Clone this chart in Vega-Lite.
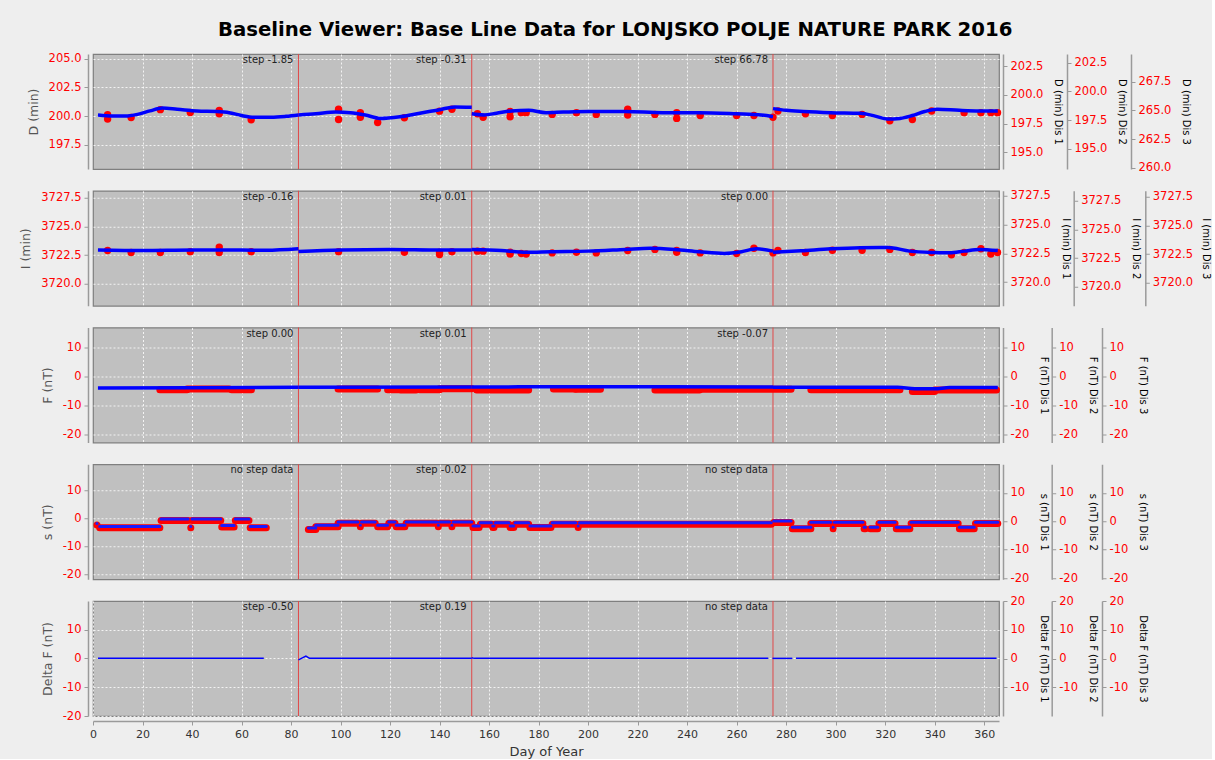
{
"$schema":"https://vega.github.io/schema/vega-lite/v6.json",
"padding":{"left":19,"top":20,"right":0,"bottom":0},
"title":{"text":"Baseline Viewer: Base Line Data for LONJSKO POLJE NATURE PARK 2016","fontSize":19.7,"fontWeight":"bold","font":"DejaVu Sans","color":"#000000","anchor":"middle","offset":12},
"spacing":21.75,
"bounds":"flush",
"datasets":{
"breaks":[{"d":83},{"d":153},{"d":274.7}],
"steps":[
{"p":"D","d":83,"t":"step -1.85"},{"p":"D","d":153,"t":"step -0.31"},{"p":"D","d":274.7,"t":"step 66.78"},
{"p":"I","d":83,"t":"step -0.16"},{"p":"I","d":153,"t":"step 0.01"},{"p":"I","d":274.7,"t":"step 0.00"},
{"p":"F","d":83,"t":"step 0.00"},{"p":"F","d":153,"t":"step 0.01"},{"p":"F","d":274.7,"t":"step -0.07"},
{"p":"s","d":83,"t":"no step data"},{"p":"s","d":153,"t":"step -0.02"},{"p":"s","d":274.7,"t":"no step data"},
{"p":"dF","d":83,"t":"step -0.50"},{"p":"dF","d":153,"t":"step 0.19"},{"p":"dF","d":274.7,"t":"no step data"}],
"pts":[
{"p":"D","d":5.9,"v":200.12},{"p":"D","d":5.9,"v":199.74},{"p":"D","d":15.4,"v":199.88},{"p":"D","d":27.2,"v":200.56},{"p":"D","d":39.3,"v":200.32},{"p":"D","d":51,"v":200.5},{"p":"D","d":51,"v":200.2},{"p":"D","d":63.9,"v":199.68},{"p":"D","d":99.2,"v":200.6},{"p":"D","d":99.2,"v":199.7},{"p":"D","d":108,"v":200.3},{"p":"D","d":108,"v":199.9},{"p":"D","d":115,"v":199.45},{"p":"D","d":125.8,"v":199.86},{"p":"D","d":140,"v":200.43},{"p":"D","d":145,"v":200.6},{"p":"D","d":155.3,"v":200.2},{"p":"D","d":157.6,"v":199.9},{"p":"D","d":168.5,"v":200.4},{"p":"D","d":168.5,"v":199.95},{"p":"D","d":173,"v":200.3},{"p":"D","d":175,"v":200.3},{"p":"D","d":185.5,"v":200.15},{"p":"D","d":195.3,"v":200.3},{"p":"D","d":203.3,"v":200.15},{"p":"D","d":216,"v":200.6},{"p":"D","d":216,"v":200.1},{"p":"D","d":227,"v":200.15},{"p":"D","d":235.8,"v":200.3},{"p":"D","d":235.8,"v":199.8},{"p":"D","d":245.3,"v":200.05},{"p":"D","d":260,"v":200.05},{"p":"D","d":267,"v":200.05},{"p":"D","d":274.7,"v":199.9},{"p":"D","d":276.7,"v":200.45},{"p":"D","d":287.8,"v":200.2},{"p":"D","d":298.7,"v":200.05},{"p":"D","d":310.7,"v":200.15},{"p":"D","d":321.9,"v":199.6},{"p":"D","d":331,"v":199.7},{"p":"D","d":338.8,"v":200.45},{"p":"D","d":351.9,"v":200.3},{"p":"D","d":358.7,"v":200.3},{"p":"D","d":362.7,"v":200.3},{"p":"D","d":365.4,"v":200.3},
{"p":"I","d":5.9,"v":3722.9},{"p":"I","d":15.4,"v":3722.73},{"p":"I","d":27.2,"v":3722.73},{"p":"I","d":39.3,"v":3722.8},{"p":"I","d":51,"v":3723.2},{"p":"I","d":51,"v":3722.73},{"p":"I","d":63.9,"v":3722.8},{"p":"I","d":99.2,"v":3722.8},{"p":"I","d":125.8,"v":3722.75},{"p":"I","d":140,"v":3722.55},{"p":"I","d":140,"v":3722.75},{"p":"I","d":145,"v":3722.8},{"p":"I","d":155.3,"v":3722.85},{"p":"I","d":157.6,"v":3722.85},{"p":"I","d":168.5,"v":3722.75},{"p":"I","d":168.5,"v":3722.6},{"p":"I","d":173,"v":3722.65},{"p":"I","d":175,"v":3722.6},{"p":"I","d":185.5,"v":3722.7},{"p":"I","d":195.3,"v":3722.75},{"p":"I","d":203.3,"v":3722.7},{"p":"I","d":216,"v":3722.9},{"p":"I","d":227,"v":3723.0},{"p":"I","d":235.8,"v":3722.9},{"p":"I","d":235.8,"v":3722.75},{"p":"I","d":245.3,"v":3722.7},{"p":"I","d":260,"v":3722.65},{"p":"I","d":267,"v":3723.1},{"p":"I","d":274.7,"v":3722.7},{"p":"I","d":276.7,"v":3722.9},{"p":"I","d":287.8,"v":3722.73},{"p":"I","d":298.7,"v":3722.92},{"p":"I","d":310.7,"v":3722.92},{"p":"I","d":321.9,"v":3723.0},{"p":"I","d":331,"v":3722.73},{"p":"I","d":338.8,"v":3722.73},{"p":"I","d":346.8,"v":3722.53},{"p":"I","d":351.9,"v":3722.73},{"p":"I","d":358.7,"v":3723.06},{"p":"I","d":362.7,"v":3722.6},{"p":"I","d":365.4,"v":3722.73}],
"base":[
{"p":"D","g":1,"d":2,"v":200.1},{"p":"D","g":1,"d":8,"v":200.0},{"p":"D","g":1,"d":13,"v":200.0},{"p":"D","g":1,"d":18,"v":200.15},{"p":"D","g":1,"d":23,"v":200.45},{"p":"D","g":1,"d":28,"v":200.7},{"p":"D","g":1,"d":34,"v":200.6},{"p":"D","g":1,"d":42,"v":200.45},{"p":"D","g":1,"d":50,"v":200.4},{"p":"D","g":1,"d":55,"v":200.3},{"p":"D","g":1,"d":60,"v":200.05},{"p":"D","g":1,"d":65,"v":199.9},{"p":"D","g":1,"d":72,"v":199.9},{"p":"D","g":1,"d":78,"v":199.98},{"p":"D","g":1,"d":83,"v":200.1},
{"p":"D","g":2,"d":83,"v":200.1},{"p":"D","g":2,"d":90,"v":200.2},{"p":"D","g":2,"d":98,"v":200.35},{"p":"D","g":2,"d":104,"v":200.3},{"p":"D","g":2,"d":110,"v":200.1},{"p":"D","g":2,"d":116,"v":199.8},{"p":"D","g":2,"d":124,"v":199.95},{"p":"D","g":2,"d":132,"v":200.25},{"p":"D","g":2,"d":140,"v":200.55},{"p":"D","g":2,"d":146,"v":200.8},{"p":"D","g":2,"d":153,"v":200.78},
{"p":"D","g":3,"d":153,"v":200.2},{"p":"D","g":3,"d":158,"v":200.1},{"p":"D","g":3,"d":163,"v":200.25},{"p":"D","g":3,"d":169,"v":200.45},{"p":"D","g":3,"d":176,"v":200.5},{"p":"D","g":3,"d":183,"v":200.3},{"p":"D","g":3,"d":190,"v":200.35},{"p":"D","g":3,"d":200,"v":200.4},{"p":"D","g":3,"d":215,"v":200.4},{"p":"D","g":3,"d":230,"v":200.3},{"p":"D","g":3,"d":245,"v":200.3},{"p":"D","g":3,"d":260,"v":200.2},{"p":"D","g":3,"d":270,"v":200.1},{"p":"D","g":3,"d":274.7,"v":199.95},
{"p":"D","g":4,"d":274.7,"v":200.65},{"p":"D","g":4,"d":280,"v":200.5},{"p":"D","g":4,"d":287,"v":200.4},{"p":"D","g":4,"d":298,"v":200.3},{"p":"D","g":4,"d":310,"v":200.25},{"p":"D","g":4,"d":316,"v":200.0},{"p":"D","g":4,"d":321,"v":199.75},{"p":"D","g":4,"d":326,"v":199.8},{"p":"D","g":4,"d":331,"v":200.05},{"p":"D","g":4,"d":336,"v":200.4},{"p":"D","g":4,"d":341,"v":200.6},{"p":"D","g":4,"d":350,"v":200.5},{"p":"D","g":4,"d":358,"v":200.45},{"p":"D","g":4,"d":365.5,"v":200.45},
{"p":"I","g":1,"d":2,"v":3722.95},{"p":"I","g":1,"d":20,"v":3722.9},{"p":"I","g":1,"d":40,"v":3722.95},{"p":"I","g":1,"d":60,"v":3722.95},{"p":"I","g":1,"d":70,"v":3722.92},{"p":"I","g":1,"d":83,"v":3723.05},
{"p":"I","g":2,"d":83,"v":3722.82},{"p":"I","g":2,"d":100,"v":3722.95},{"p":"I","g":2,"d":120,"v":3723.0},{"p":"I","g":2,"d":140,"v":3722.95},{"p":"I","g":2,"d":153,"v":3722.95},
{"p":"I","g":3,"d":153,"v":3723.0},{"p":"I","g":3,"d":165,"v":3722.9},{"p":"I","g":3,"d":175,"v":3722.75},{"p":"I","g":3,"d":185,"v":3722.8},{"p":"I","g":3,"d":200,"v":3722.85},{"p":"I","g":3,"d":215,"v":3723.0},{"p":"I","g":3,"d":225,"v":3723.1},{"p":"I","g":3,"d":235,"v":3723.0},{"p":"I","g":3,"d":245,"v":3722.8},{"p":"I","g":3,"d":255,"v":3722.65},{"p":"I","g":3,"d":262,"v":3722.8},{"p":"I","g":3,"d":268,"v":3723.05},{"p":"I","g":3,"d":274.7,"v":3722.85},
{"p":"I","g":4,"d":274.7,"v":3722.75},{"p":"I","g":4,"d":286,"v":3722.88},{"p":"I","g":4,"d":298,"v":3723.05},{"p":"I","g":4,"d":310,"v":3723.15},{"p":"I","g":4,"d":321,"v":3723.17},{"p":"I","g":4,"d":330,"v":3722.85},{"p":"I","g":4,"d":340,"v":3722.73},{"p":"I","g":4,"d":346,"v":3722.7},{"p":"I","g":4,"d":352,"v":3722.85},{"p":"I","g":4,"d":358,"v":3723.0},{"p":"I","g":4,"d":365.5,"v":3722.9},
{"p":"F","g":1,"d":2,"v":-3.9},{"p":"F","g":1,"d":40,"v":-3.85},{"p":"F","g":1,"d":83,"v":-3.7},
{"p":"F","g":2,"d":83,"v":-3.7},{"p":"F","g":2,"d":153,"v":-3.6},
{"p":"F","g":3,"d":153,"v":-3.6},{"p":"F","g":3,"d":200,"v":-3.5},{"p":"F","g":3,"d":274.7,"v":-3.6},
{"p":"F","g":4,"d":274.7,"v":-3.7},{"p":"F","g":4,"d":325,"v":-3.7},{"p":"F","g":4,"d":332,"v":-4.2},{"p":"F","g":4,"d":340,"v":-4.2},{"p":"F","g":4,"d":346,"v":-3.8},{"p":"F","g":4,"d":365.5,"v":-3.8},
{"p":"dF","g":1,"d":2,"v":0},{"p":"dF","g":1,"d":69,"v":0},
{"p":"dF","g":2,"d":83,"v":-0.5},{"p":"dF","g":2,"d":86,"v":0.8},{"p":"dF","g":2,"d":87.5,"v":0},{"p":"dF","g":2,"d":153,"v":0},
{"p":"dF","g":3,"d":153,"v":0.2},{"p":"dF","g":3,"d":154,"v":0},{"p":"dF","g":3,"d":272.8,"v":0},
{"p":"dF","g":4,"d":274.5,"v":0},{"p":"dF","g":4,"d":282.5,"v":0},
{"p":"dF","g":5,"d":284,"v":0},{"p":"dF","g":5,"d":365,"v":0}],
"bands":[
{"p":"F","d":27,"d2":38,"r":-4.5},{"p":"F","d":38,"d2":55,"r":-4.3},{"p":"F","d":56,"d2":64,"r":-4.5},{"p":"F","d":99,"d2":115,"r":-4.3},{"p":"F","d":119,"d2":124,"r":-4.5},{"p":"F","d":124.5,"d2":130.5,"r":-4.6},{"p":"F","d":132,"d2":140,"r":-4.5},{"p":"F","d":140,"d2":153,"r":-4.2},{"p":"F","d":155,"d2":176,"r":-4.6},{"p":"F","d":186,"d2":195,"r":-4.3},{"p":"F","d":195,"d2":205,"r":-4.4},{"p":"F","d":227,"d2":245,"r":-4.6},{"p":"F","d":245,"d2":282,"r":-4.4},{"p":"F","d":290,"d2":326,"r":-4.5},{"p":"F","d":331,"d2":340,"r":-5.1},{"p":"F","d":340,"d2":365,"r":-4.6},
{"p":"s","d":1.6,"d2":1.6,"v":-1.9,"r":-2.4},{"p":"s","d":2.7,"d2":27,"v":-2.9,"r":-3.4},{"p":"s","d":27.5,"d2":38.4,"v":-0.3,"r":-0.8},{"p":"s","d":39.5,"d2":39.5,"v":-2.9,"r":-3.4},{"p":"s","d":40,"d2":51.6,"v":-0.3,"r":-0.8},{"p":"s","d":52,"d2":57,"v":-2.6,"r":-3.1},{"p":"s","d":57.5,"d2":63,"v":-0.3,"r":-0.8},{"p":"s","d":63.5,"d2":70,"v":-2.9,"r":-3.4},
{"p":"s","d":87,"d2":90,"v":-3.5,"r":-4.0},{"p":"s","d":90,"d2":99,"v":-2.5,"r":-3.0},{"p":"s","d":99,"d2":107,"v":-1.3,"r":-1.8},{"p":"s","d":108,"d2":108,"v":-2.5,"r":-3.0},{"p":"s","d":108.5,"d2":114,"v":-1.3,"r":-1.8},{"p":"s","d":115,"d2":119,"v":-2.5,"r":-3.0},{"p":"s","d":119.5,"d2":122,"v":-1.3,"r":-1.8},{"p":"s","d":122.5,"d2":126,"v":-2.5,"r":-3.0},{"p":"s","d":126.5,"d2":139,"v":-1.3,"r":-1.8},{"p":"s","d":139.5,"d2":139.5,"v":-2.5,"r":-3.0},{"p":"s","d":140,"d2":144,"v":-1.3,"r":-1.8},{"p":"s","d":145,"d2":145,"v":-2.5,"r":-3.0},{"p":"s","d":145.5,"d2":153,"v":-1.3,"r":-1.8},
{"p":"s","d":153.5,"d2":156,"v":-2.8,"r":-3.3},{"p":"s","d":156.5,"d2":161,"v":-1.6,"r":-2.1},{"p":"s","d":161.5,"d2":162,"v":-2.8,"r":-3.3},{"p":"s","d":162.5,"d2":168,"v":-1.6,"r":-2.1},{"p":"s","d":168.5,"d2":170,"v":-2.8,"r":-3.3},{"p":"s","d":170.5,"d2":176,"v":-1.6,"r":-2.1},{"p":"s","d":176.5,"d2":185,"v":-2.8,"r":-3.3},{"p":"s","d":185.5,"d2":195,"v":-1.6,"r":-2.1},{"p":"s","d":196,"d2":196,"v":-2.8,"r":-3.3},{"p":"s","d":196.5,"d2":274,"v":-1.6,"r":-2.1},
{"p":"s","d":275,"d2":282,"v":-1.0,"r":-1.5},{"p":"s","d":282.5,"d2":290,"v":-3.2,"r":-3.7},{"p":"s","d":290,"d2":298,"v":-1.4,"r":-1.9},{"p":"s","d":299,"d2":299,"v":-3.2,"r":-3.7},{"p":"s","d":299.5,"d2":311,"v":-1.4,"r":-1.9},{"p":"s","d":311.5,"d2":312,"v":-3.2,"r":-3.7},{"p":"s","d":314,"d2":317,"v":-3.2,"r":-3.7},{"p":"s","d":317.5,"d2":324,"v":-1.4,"r":-1.9},{"p":"s","d":324.5,"d2":330,"v":-3.2,"r":-3.7},{"p":"s","d":330.5,"d2":349.5,"v":-1.4,"r":-1.9},{"p":"s","d":350,"d2":356,"v":-3.2,"r":-3.7},{"p":"s","d":356.5,"d2":365.5,"v":-1.4,"r":-1.9}]
},
"vconcat":[
{
"width":906,"height":115,
"layer":[
{"data":{"name":"breaks"},"mark":{"type":"point","opacity":0},"encoding":{"x":{"field":"d","type":"quantitative","scale":{"domain":[0,366],"nice":false,"zero":false}},"y":{"datum":200,"type":"quantitative","scale":{"domain":[195.4,205.4],"nice":false,"zero":false},"axis":{"orient":"left","offset":5,"values":[197.5,200,202.5,205],"format":".1f","title":"D (min)","grid":true,"titleFontSize":12.5,"titleColor":"#555555","titlePadding":8}}}},
{"layer":[
{"data":{"name":"breaks"},"mark":{"type":"rule","color":"#e04848","strokeWidth":1},"encoding":{"x":{"field":"d","type":"quantitative","scale":{"domain":[0,366],"nice":false,"zero":false},"axis":{"values":[20,40,60,80,100,120,140,160,180,200,220,240,260,280,300,320,340,360],"grid":true,"labels":false,"ticks":false,"domain":false,"title":null}}}},
{"data":{"name":"pts"},"transform":[{"filter":"datum.p=='D'"}],"mark":{"type":"circle","color":"#ff0000","size":55,"opacity":1},"encoding":{"x":{"field":"d","type":"quantitative"},"y":{"field":"v","type":"quantitative","scale":{"domain":[195.4,205.4],"nice":false,"zero":false},"axis":null}}},
{"data":{"name":"base"},"transform":[{"filter":"datum.p=='D'"}],"mark":{"type":"line","color":"#0000ff","strokeWidth":3.5,"interpolate":"monotone"},"encoding":{"x":{"field":"d","type":"quantitative"},"y":{"field":"v","type":"quantitative","scale":{"domain":[195.4,205.4],"nice":false,"zero":false},"axis":null},"detail":{"field":"g"}}},
{"data":{"name":"steps"},"transform":[{"filter":"datum.p=='D'"}],"mark":{"type":"text","align":"right","baseline":"top","dx":-5,"dy":1,"fontSize":10,"color":"#222222"},"encoding":{"x":{"field":"d","type":"quantitative"},"y":{"datum":205.4,"axis":null},"text":{"field":"t"}}}
]},
{"data":{"name":"breaks"},"mark":{"type":"point","opacity":0},"encoding":{"x":{"field":"d","type":"quantitative"},"y":{"datum":198.5,"type":"quantitative","scale":{"domain":[193.55,203.55],"nice":false,"zero":false},"axis":{"orient":"right","offset":4,"values":[195,197.5,200,202.5],"format":".1f","title":"D (min)  Dis 1","grid":false,"titleFontSize":10,"titleColor":"#000000","titlePadding":10}}}},
{"data":{"name":"breaks"},"mark":{"type":"point","opacity":0},"encoding":{"x":{"field":"d","type":"quantitative"},"y":{"datum":198.2,"type":"quantitative","scale":{"domain":[193.24,203.24],"nice":false,"zero":false},"axis":{"orient":"right","offset":68,"values":[195,197.5,200,202.5],"format":".1f","title":"D (min)  Dis 2","grid":false,"titleFontSize":10,"titleColor":"#000000","titlePadding":10}}}},
{"data":{"name":"breaks"},"mark":{"type":"point","opacity":0},"encoding":{"x":{"field":"d","type":"quantitative"},"y":{"datum":265,"type":"quantitative","scale":{"domain":[259.9,269.9],"nice":false,"zero":false},"axis":{"orient":"right","offset":132,"values":[260,262.5,265,267.5],"format":".1f","title":"D (min)  Dis 3","grid":false,"titleFontSize":10,"titleColor":"#000000","titlePadding":10}}}}
],
"resolve":{"scale":{"y":"independent"},"axis":{"y":"independent"}}
},
{
"width":906,"height":115,
"layer":[
{"data":{"name":"breaks"},"mark":{"type":"point","opacity":0},"encoding":{"x":{"field":"d","type":"quantitative","scale":{"domain":[0,366],"nice":false,"zero":false}},"y":{"datum":3723,"type":"quantitative","scale":{"domain":[3718.1,3728.1],"nice":false,"zero":false},"axis":{"orient":"left","offset":5,"values":[3720,3722.5,3725,3727.5],"format":".1f","title":"I (min)","grid":true,"titleFontSize":12.5,"titleColor":"#555555","titlePadding":8}}}},
{"layer":[
{"data":{"name":"breaks"},"mark":{"type":"rule","color":"#e04848","strokeWidth":1},"encoding":{"x":{"field":"d","type":"quantitative","scale":{"domain":[0,366],"nice":false,"zero":false},"axis":{"values":[20,40,60,80,100,120,140,160,180,200,220,240,260,280,300,320,340,360],"grid":true,"labels":false,"ticks":false,"domain":false,"title":null}}}},
{"data":{"name":"pts"},"transform":[{"filter":"datum.p=='I'"}],"mark":{"type":"circle","color":"#ff0000","size":55,"opacity":1},"encoding":{"x":{"field":"d","type":"quantitative"},"y":{"field":"v","type":"quantitative","scale":{"domain":[3718.1,3728.1],"nice":false,"zero":false},"axis":null}}},
{"data":{"name":"base"},"transform":[{"filter":"datum.p=='I'"}],"mark":{"type":"line","color":"#0000ff","strokeWidth":3.5,"interpolate":"monotone"},"encoding":{"x":{"field":"d","type":"quantitative"},"y":{"field":"v","type":"quantitative","scale":{"domain":[3718.1,3728.1],"nice":false,"zero":false},"axis":null},"detail":{"field":"g"}}},
{"data":{"name":"steps"},"transform":[{"filter":"datum.p=='I'"}],"mark":{"type":"text","align":"right","baseline":"top","dx":-5,"dy":1,"fontSize":10,"color":"#222222"},"encoding":{"x":{"field":"d","type":"quantitative"},"y":{"datum":3728.1,"axis":null},"text":{"field":"t"}}}
]},
{"data":{"name":"breaks"},"mark":{"type":"point","opacity":0},"encoding":{"x":{"field":"d","type":"quantitative"},"y":{"datum":3723,"type":"quantitative","scale":{"domain":[3717.95,3727.95],"nice":false,"zero":false},"axis":{"orient":"right","offset":4,"values":[3720,3722.5,3725,3727.5],"format":".1f","title":"I (min)  Dis 1","grid":false,"titleFontSize":10,"titleColor":"#000000","titlePadding":10}}}},
{"data":{"name":"breaks"},"mark":{"type":"point","opacity":0},"encoding":{"x":{"field":"d","type":"quantitative"},"y":{"datum":3723,"type":"quantitative","scale":{"domain":[3718.35,3728.35],"nice":false,"zero":false},"axis":{"orient":"right","offset":74.7,"values":[3720,3722.5,3725,3727.5],"format":".1f","title":"I (min)  Dis 2","grid":false,"titleFontSize":10,"titleColor":"#000000","titlePadding":10}}}},
{"data":{"name":"breaks"},"mark":{"type":"point","opacity":0},"encoding":{"x":{"field":"d","type":"quantitative"},"y":{"datum":3723,"type":"quantitative","scale":{"domain":[3718.0,3728.0],"nice":false,"zero":false},"axis":{"orient":"right","offset":146.3,"values":[3720,3722.5,3725,3727.5],"format":".1f","title":"I (min)  Dis 3","grid":false,"titleFontSize":10,"titleColor":"#000000","titlePadding":8}}}}
],
"resolve":{"scale":{"y":"independent"},"axis":{"y":"independent"}}
},
{
"width":906,"height":115,
"layer":[
{"data":{"name":"breaks"},"mark":{"type":"point","opacity":0},"encoding":{"x":{"field":"d","type":"quantitative","scale":{"domain":[0,366],"nice":false,"zero":false}},"y":{"datum":0,"type":"quantitative","scale":{"domain":[-22.7,16.9],"nice":false,"zero":false},"axis":{"orient":"left","offset":5,"values":[-20,-10,0,10],"format":"d","title":"F (nT)","grid":true,"titleFontSize":12.5,"titleColor":"#555555","titlePadding":8}}}},
{"layer":[
{"data":{"name":"breaks"},"mark":{"type":"rule","color":"#e04848","strokeWidth":1},"encoding":{"x":{"field":"d","type":"quantitative","scale":{"domain":[0,366],"nice":false,"zero":false},"axis":{"values":[20,40,60,80,100,120,140,160,180,200,220,240,260,280,300,320,340,360],"grid":true,"labels":false,"ticks":false,"domain":false,"title":null}}}},
{"data":{"name":"bands"},"transform":[{"filter":"datum.p=='F'"}],"mark":{"type":"rule","color":"#ff0000","strokeWidth":7,"strokeCap":"round"},"encoding":{"x":{"field":"d","type":"quantitative"},"x2":{"field":"d2"},"y":{"field":"r","type":"quantitative","scale":{"domain":[-22.7,16.9],"nice":false,"zero":false},"axis":null}}},
{"data":{"name":"base"},"transform":[{"filter":"datum.p=='F'"}],"mark":{"type":"line","color":"#0000ff","strokeWidth":3.5,"interpolate":"monotone"},"encoding":{"x":{"field":"d","type":"quantitative"},"y":{"field":"v","type":"quantitative","scale":{"domain":[-22.7,16.9],"nice":false,"zero":false},"axis":null},"detail":{"field":"g"}}},
{"data":{"name":"steps"},"transform":[{"filter":"datum.p=='F'"}],"mark":{"type":"text","align":"right","baseline":"top","dx":-5,"dy":1,"fontSize":10,"color":"#222222"},"encoding":{"x":{"field":"d","type":"quantitative"},"y":{"datum":16.9,"axis":null},"text":{"field":"t"}}}
]},
{"data":{"name":"breaks"},"mark":{"type":"point","opacity":0},"encoding":{"x":{"field":"d","type":"quantitative"},"y":{"datum":0,"type":"quantitative","scale":{"domain":[-22.7,16.9],"nice":false,"zero":false},"axis":{"orient":"right","offset":4,"values":[-20,-10,0,10],"format":"d","title":"F (nT)  Dis 1","grid":false,"titleFontSize":10,"titleColor":"#000000","titlePadding":10}}}},
{"data":{"name":"breaks"},"mark":{"type":"point","opacity":0},"encoding":{"x":{"field":"d","type":"quantitative"},"y":{"datum":0,"type":"quantitative","scale":{"domain":[-22.7,16.9],"nice":false,"zero":false},"axis":{"orient":"right","offset":52.7,"values":[-20,-10,0,10],"format":"d","title":"F (nT)  Dis 2","grid":false,"titleFontSize":10,"titleColor":"#000000","titlePadding":10}}}},
{"data":{"name":"breaks"},"mark":{"type":"point","opacity":0},"encoding":{"x":{"field":"d","type":"quantitative"},"y":{"datum":0,"type":"quantitative","scale":{"domain":[-22.7,16.9],"nice":false,"zero":false},"axis":{"orient":"right","offset":103,"values":[-20,-10,0,10],"format":"d","title":"F (nT)  Dis 3","grid":false,"titleFontSize":10,"titleColor":"#000000","titlePadding":10}}}}
],
"resolve":{"scale":{"y":"independent"},"axis":{"y":"independent"}}
},
{
"width":906,"height":115,
"layer":[
{"data":{"name":"breaks"},"mark":{"type":"point","opacity":0},"encoding":{"x":{"field":"d","type":"quantitative","scale":{"domain":[0,366],"nice":false,"zero":false}},"y":{"datum":0,"type":"quantitative","scale":{"domain":[-21.7,19.2],"nice":false,"zero":false},"axis":{"orient":"left","offset":5,"values":[-20,-10,0,10],"format":"d","title":"s (nT)","grid":true,"titleFontSize":12.5,"titleColor":"#555555","titlePadding":8}}}},
{"layer":[
{"data":{"name":"breaks"},"mark":{"type":"rule","color":"#e04848","strokeWidth":1},"encoding":{"x":{"field":"d","type":"quantitative","scale":{"domain":[0,366],"nice":false,"zero":false},"axis":{"values":[20,40,60,80,100,120,140,160,180,200,220,240,260,280,300,320,340,360],"grid":true,"labels":false,"ticks":false,"domain":false,"title":null}}}},
{"data":{"name":"bands"},"transform":[{"filter":"datum.p=='s'"}],"mark":{"type":"rule","color":"#ff0000","strokeWidth":7,"strokeCap":"round"},"encoding":{"x":{"field":"d","type":"quantitative"},"x2":{"field":"d2"},"y":{"field":"r","type":"quantitative","scale":{"domain":[-21.7,19.2],"nice":false,"zero":false},"axis":null}}},
{"data":{"name":"bands"},"transform":[{"filter":"datum.p=='s'"}],"mark":{"type":"rule","color":"#1a1aff","strokeWidth":3,"strokeCap":"round"},"encoding":{"x":{"field":"d","type":"quantitative"},"x2":{"field":"d2"},"y":{"field":"v","type":"quantitative","scale":{"domain":[-21.7,19.2],"nice":false,"zero":false},"axis":null}}},
{"data":{"name":"steps"},"transform":[{"filter":"datum.p=='s'"}],"mark":{"type":"text","align":"right","baseline":"top","dx":-5,"dy":1,"fontSize":10,"color":"#222222"},"encoding":{"x":{"field":"d","type":"quantitative"},"y":{"datum":19.2,"axis":null},"text":{"field":"t"}}}
]},
{"data":{"name":"breaks"},"mark":{"type":"point","opacity":0},"encoding":{"x":{"field":"d","type":"quantitative"},"y":{"datum":0,"type":"quantitative","scale":{"domain":[-20.4,20.1],"nice":false,"zero":false},"axis":{"orient":"right","offset":4,"values":[-20,-10,0,10],"format":"d","title":"s (nT)  Dis 1","grid":false,"titleFontSize":10,"titleColor":"#000000","titlePadding":10}}}},
{"data":{"name":"breaks"},"mark":{"type":"point","opacity":0},"encoding":{"x":{"field":"d","type":"quantitative"},"y":{"datum":0,"type":"quantitative","scale":{"domain":[-20.4,20.1],"nice":false,"zero":false},"axis":{"orient":"right","offset":52.7,"values":[-20,-10,0,10],"format":"d","title":"s (nT)  Dis 2","grid":false,"titleFontSize":10,"titleColor":"#000000","titlePadding":10}}}},
{"data":{"name":"breaks"},"mark":{"type":"point","opacity":0},"encoding":{"x":{"field":"d","type":"quantitative"},"y":{"datum":0,"type":"quantitative","scale":{"domain":[-20.4,20.1],"nice":false,"zero":false},"axis":{"orient":"right","offset":103,"values":[-20,-10,0,10],"format":"d","title":"s (nT)  Dis 3","grid":false,"titleFontSize":10,"titleColor":"#000000","titlePadding":10}}}}
],
"resolve":{"scale":{"y":"independent"},"axis":{"y":"independent"}}
},
{
"width":906,"height":115,
"layer":[
{"data":{"name":"breaks"},"mark":{"type":"point","opacity":0},"encoding":{"x":{"field":"d","type":"quantitative","scale":{"domain":[0,366],"nice":false,"zero":false}},"y":{"datum":0,"type":"quantitative","scale":{"domain":[-20,19.9],"nice":false,"zero":false},"axis":{"orient":"left","offset":5,"values":[-20,-10,0,10],"format":"d","title":"Delta F (nT)","grid":true,"titleFontSize":12.5,"titleColor":"#555555","titlePadding":8}}}},
{"layer":[
{"data":{"name":"breaks"},"mark":{"type":"rule","color":"#e04848","strokeWidth":1},"encoding":{"x":{"field":"d","type":"quantitative","scale":{"domain":[0,366],"nice":false,"zero":false},"axis":{"orient":"bottom","offset":5,"values":[0,20,40,60,80,100,120,140,160,180,200,220,240,260,280,300,320,340,360],"format":"d","grid":true,"title":"Day of Year","labelColor":"#333333","labelFontSize":11,"titleFontSize":13,"titleColor":"#333333","titlePadding":6}}}},
{"data":{"name":"base"},"transform":[{"filter":"datum.p=='dF'"}],"mark":{"type":"line","color":"#0000ff","strokeWidth":1.5},"encoding":{"x":{"field":"d","type":"quantitative"},"y":{"field":"v","type":"quantitative","scale":{"domain":[-20,19.9],"nice":false,"zero":false},"axis":null},"detail":{"field":"g"}}},
{"data":{"name":"steps"},"transform":[{"filter":"datum.p=='dF'"}],"mark":{"type":"text","align":"right","baseline":"top","dx":-5,"dy":1,"fontSize":10,"color":"#222222"},"encoding":{"x":{"field":"d","type":"quantitative"},"y":{"datum":19.9,"axis":null},"text":{"field":"t"}}}
]},
{"data":{"name":"breaks"},"mark":{"type":"point","opacity":0},"encoding":{"x":{"field":"d","type":"quantitative"},"y":{"datum":0,"type":"quantitative","scale":{"domain":[-19.9,20],"nice":false,"zero":false},"axis":{"orient":"right","offset":4,"values":[-10,0,10,20],"format":"d","title":"Delta F (nT)  Dis 1","grid":false,"titleFontSize":10,"titleColor":"#000000","titlePadding":10}}}},
{"data":{"name":"breaks"},"mark":{"type":"point","opacity":0},"encoding":{"x":{"field":"d","type":"quantitative"},"y":{"datum":0,"type":"quantitative","scale":{"domain":[-19.9,20],"nice":false,"zero":false},"axis":{"orient":"right","offset":52.7,"values":[-10,0,10,20],"format":"d","title":"Delta F (nT)  Dis 2","grid":false,"titleFontSize":10,"titleColor":"#000000","titlePadding":10}}}},
{"data":{"name":"breaks"},"mark":{"type":"point","opacity":0},"encoding":{"x":{"field":"d","type":"quantitative"},"y":{"datum":0,"type":"quantitative","scale":{"domain":[-19.9,20],"nice":false,"zero":false},"axis":{"orient":"right","offset":103,"values":[-10,0,10,20],"format":"d","title":"Delta F (nT)  Dis 3","grid":false,"titleFontSize":10,"titleColor":"#000000","titlePadding":10}}}}
],
"resolve":{"scale":{"y":"independent"},"axis":{"y":"independent"}}
}
],
"config":{
"background":"#eeeeee",
"font":"DejaVu Sans",
"view":{"fill":"#c0c0c0","stroke":"#7f7f7f","strokeWidth":1.2},
"axis":{"labelFont":"DejaVu Sans","titleFont":"DejaVu Sans","domainColor":"#9a9a9a","domainWidth":1.5,"tickColor":"#9a9a9a","tickSize":4,"tickWidth":1,"labelPadding":3,"gridColor":"#ffffff","gridDash":[2,2],"gridOpacity":0.8,"gridWidth":1,"titleFontWeight":"normal","labelOverlap":false,"labelFlush":false,"labelColor":"#ff0000","labelFontSize":11.5},
"locale":{"number":{"decimal":".","thousands":",","grouping":[3],"currency":["$",""],"minus":"-"}}
}
}
